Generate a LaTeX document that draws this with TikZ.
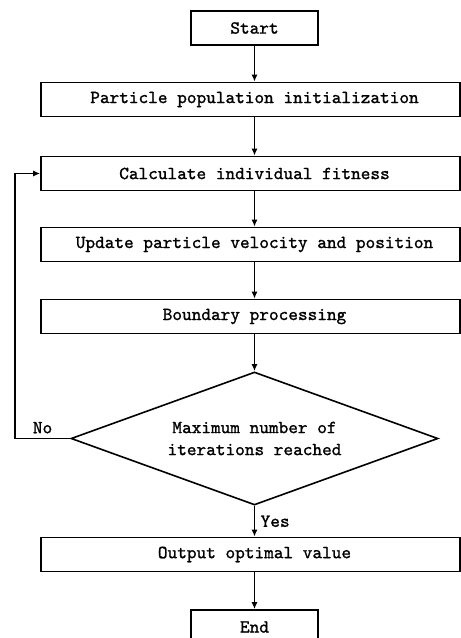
\documentclass[tikz,border=0pt]{standalone}
\usepackage{fontspec}
\newfontfamily\flowfont{lmmono10-regular.otf}[FakeBold=1.2]
\usetikzlibrary{shapes.geometric, arrows.meta}

\begin{document}
\begin{tikzpicture}[x=1pt, y=-1pt, line width=1.6pt,
        font=\flowfont\fontsize{18.4}{22}\selectfont,
        >={Latex[length=7pt, width=6pt]},
        stepbox/.style={rectangle, draw, inner sep=0pt, minimum width=419pt, minimum height=34pt,
            execute at begin node=\hspace*{8pt}},
        termbox/.style={rectangle, draw, inner sep=0pt, minimum width=127pt, minimum height=34pt},
        decision/.style={diamond, draw, inner sep=0pt, aspect=2.76, minimum width=367pt, minimum height=133pt, align=center}]
            \useasboundingbox (0,0) rectangle (461,638);

            % --- Nodes Placement ---
            \node[termbox] (start) at (254.5,28) {Start};
            \node[stepbox] (init) at (250.5,99.5) {Particle population initialization};
            \node[stepbox] (fit) at (250.5,173.5) {Calculate individual fitness};
            \node[stepbox] (upd) at (250.5,244.5) {Update particle velocity and position};
            \node[stepbox] (bound) at (250.5,316.5) {Boundary processing};
            \node[decision] (maxit) at (254.5,438.5) {Maximum number of\\iterations reached};
            \node[stepbox] (out) at (250.5,554.5) {Output optimal value};
            \node[termbox] (stop) at (254.5,627) {End};

            \coordinate (back) at (15,438.5);

            % --- Direct Straight Connections ---
            \draw[->] (start.south) -- (start.south |- init.north);
            \draw[->] (start.south |- init.south) -- (start.south |- fit.north);
            \draw[->] (start.south |- fit.south) -- (start.south |- upd.north);
            \draw[->] (start.south |- upd.south) -- (start.south |- bound.north);
            \draw[->] (start.south |- bound.south) -- (maxit.north);
            \draw[->] (maxit.south) -- node[right, xshift=2pt] {Yes} (maxit.south |- out.north);
            \draw[->] (maxit.south |- out.south) -- (stop.north);

            % --- Loop Back ---
            \draw[->] (maxit.west) -- node[above, pos=0.5, yshift=1pt] {No} (back) |- (fit.west);
        \end{tikzpicture}
\end{document}
